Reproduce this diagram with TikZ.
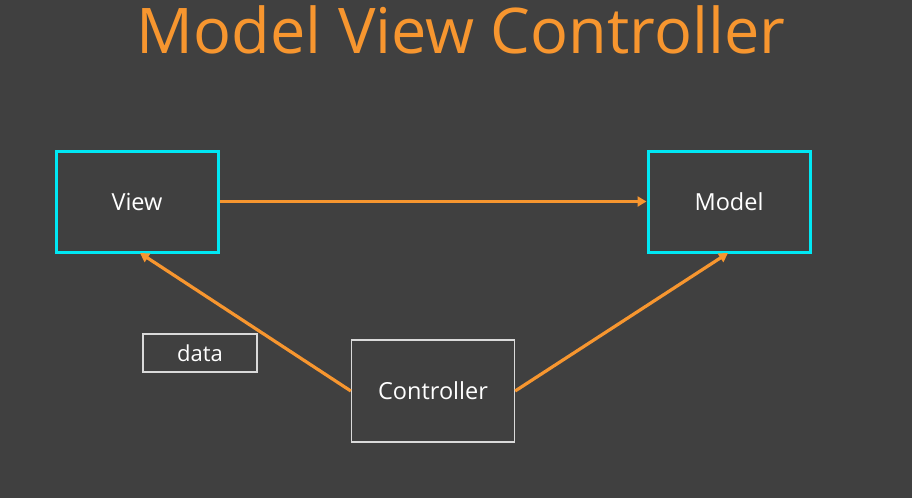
\documentclass[tikz,border=0pt]{standalone}
\usepackage{fontspec}
\setmainfont{Open Sans}
\usetikzlibrary{arrows.meta}
\definecolor{bg}{HTML}{404040}
\definecolor{org}{HTML}{F7962F}
\definecolor{cy}{HTML}{00E8F4}
\definecolor{lg}{HTML}{DADADA}
\tikzset{
  mainbox/.style={draw=cy, line width=3pt, minimum width=162pt, minimum height=101pt, inner sep=0pt, text=white, font=\fontsize{23.5}{27}\selectfont},
  ctrlbox/.style={draw=lg, line width=1.3pt, minimum width=163pt, minimum height=102pt, inner sep=0pt, text=white, font=\fontsize{23.5}{27}\selectfont},
  databox/.style={draw=lg, line width=1.3pt, minimum width=114pt, minimum height=38pt, inner sep=0pt, text=white, font=\fontsize{22}{25}\selectfont},
  conn/.style={draw=org, line width=3.2pt, -{Triangle[length=9pt,width=10pt]}},
}
\begin{document}
\begin{tikzpicture}[x=1pt,y=-1pt]
\fill[bg] (0,0) rectangle (912,498);
\useasboundingbox (0,0) rectangle (912,498);
\node[text=org, font=\fontsize{63}{70}\selectfont, inner sep=0pt] (title) at (461,30) {Model View Controller};
\node[mainbox] (view) at (137,201.5) {View};
\node[mainbox] (model) at (729,201.5) {Model};
\node[ctrlbox] (ctrl) at (433,391) {Controller};
\node[databox] (data) at (200,353) {data};
\coordinate (vb) at (140,253);
\coordinate (mb) at (728,253);
\draw[conn] (view.east) -- (model.west);
\draw[conn] (ctrl.west) -- (vb);
\draw[conn] (ctrl.east) -- (mb);
\end{tikzpicture}
\end{document}
